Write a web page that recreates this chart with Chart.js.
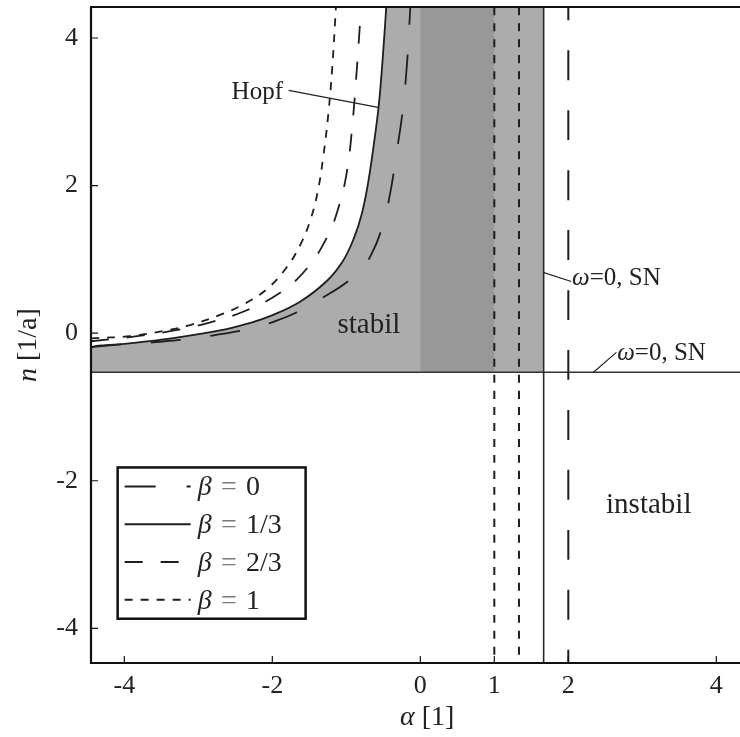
<!DOCTYPE html>
<html lang="de">
<head>
<meta charset="UTF-8">
<title>Stabilitätskarte</title>
<script src="https://cdn.jsdelivr.net/npm/chart.js"></script>
<style>
  html, body { margin: 0; padding: 0; background: #fff; }
  #wrap { width: 740px; height: 737px; position: relative; }
</style>
</head>
<body>
<div id="wrap"><canvas id="chart"></canvas></div>
<script>
// axis ticks
const alphaTicks = [-4, -2, 0, 1, 2, 4];
const nTicks = [-4, -2, 0, 2, 4];

// axis ranges (plot runs off the right edge)
const alphaMin = -4.45, alphaMax = 4.32;
const nMin = -4.47, nMax = 4.42;

// Hopf curves
const alphaBeta0 = [-4.45, -4.35, -3.68, -2.79, -1.94, -1.22, -0.81, -0.66, -0.52, -0.41, -0.32, -0.24, -0.18, -0.135];
const nBeta0 = [-0.19, -0.17, -0.13, -0.03, 0.17, 0.54, 0.85, 1.07, 1.42, 1.88, 2.45, 3.00, 3.65, 4.42];

const alphaBeta13 = [-4.45, -4.04, -3.36, -2.69, -2.30, -2.03, -1.62, -1.26, -1.05, -0.90, -0.79, -0.70, -0.62, -0.56, -0.51, -0.46];
const nBeta13 = [-0.19, -0.15, -0.07, 0.04, 0.14, 0.23, 0.43, 0.71, 0.97, 1.28, 1.62, 2.07, 2.62, 3.10, 3.70, 4.42];

const alphaBeta23 = [-4.45, -3.90, -3.36, -2.86, -2.37, -1.89, -1.53, -1.26, -1.10, -0.99, -0.92, -0.86, -0.80];
const nBeta23 = [-0.11, -0.05, 0.03, 0.14, 0.30, 0.55, 0.88, 1.30, 1.72, 2.20, 2.80, 3.55, 4.42];

const alphaBeta1 = [-4.45, -3.92, -3.47, -3.11, -2.70, -2.39, -2.07, -1.80, -1.62, -1.49, -1.39, -1.31, -1.24, -1.19, -1.14];
const nBeta1 = [-0.07, -0.04, 0.03, 0.11, 0.25, 0.39, 0.60, 0.90, 1.20, 1.52, 1.90, 2.40, 3.00, 3.60, 4.42];

// saddle-node boundaries (omega = 0)
const snAlphaShort = [1, 4 / 3];
const snAlphaSolid = 5 / 3;
const snAlphaLong = 2;
const snN = -0.53;

// darker band
const bandAlpha = [0, 1];

const legendLabels = ['0', '1/3', '2/3', '1'];

const ink = '#1e1e1e';
const lightGray = 'rgb(172,172,172)';
const darkGray = 'rgb(152,152,152)';
const serif = '"Liberation Serif", "DejaVu Serif", serif';

const pts = (xs, ys) => xs.map((x, i) => ({ x: x, y: ys[i] }));
// drawn top-down so the dash phase starts at the upper frame
const vline = a => [{ x: a, y: nMax }, { x: a, y: nMin }];

const dashLong = [30, 30];
const dashMid = [18, 18];
const dashShort = [8, 8];

function curve(data, dash, extra) {
    return Object.assign({
        data: data,
        borderColor: ink,
        borderWidth: 1.8,
        borderDash: dash,
        borderCapStyle: 'butt',
        pointRadius: 0,
        fill: false,
        tension: 0.4
    }, extra || {});
}

const hopfTop = alphaBeta13[alphaBeta13.length - 1];

const datasets = [
    // dark band between alpha 0 and 1
    curve([{ x: bandAlpha[0], y: nMax }, { x: bandAlpha[1], y: nMax }], [], {
        borderWidth: 0, fill: { value: snN }, backgroundColor: darkGray
    }),
    // light strip right of the Hopf asymptote up to the SN line
    curve([{ x: hopfTop - 0.012, y: nMax }, { x: snAlphaSolid, y: nMax }], [], {
        borderWidth: 0, fill: { value: snN }, backgroundColor: lightGray
    }),
    curve(pts(alphaBeta13, nBeta13), [], { fill: { value: snN }, backgroundColor: lightGray }),
    curve(pts(alphaBeta0, nBeta0), dashLong),
    curve(pts(alphaBeta23, nBeta23), dashMid),
    curve(pts(alphaBeta1, nBeta1), dashShort),
    curve(vline(snAlphaShort[0]), dashShort, { borderWidth: 2 }),
    curve(vline(snAlphaShort[1]), dashShort, { borderWidth: 2 }),
    curve(vline(snAlphaSolid), [], { borderWidth: 1.6, borderColor: '#2a2a2a' }),
    curve(vline(snAlphaLong), dashLong, { borderWidth: 2, borderDashOffset: 17 }),
    curve([{ x: alphaMin, y: snN }, { x: alphaMax, y: snN }], [], { borderWidth: 1.5, borderColor: '#333' })
];

// parts: [text, italic, colour]
function rich(ctx, parts, x, y, size) {
    let cx = x;
    parts.forEach(p => {
        ctx.font = (p[1] ? 'italic ' : '') + size + 'px ' + serif;
        ctx.fillStyle = p[2] || '#222';
        ctx.fillText(p[0], cx, y);
        cx += ctx.measureText(p[0]).width;
    });
    return cx;
}

const decor = {
    id: 'decor',
    afterDatasetsDraw(chart) {
        const ctx = chart.ctx;
        const a = chart.chartArea;
        const xs = chart.scales.x, ys = chart.scales.y;
        const px = v => xs.getPixelForValue(v), py = v => ys.getPixelForValue(v);
        ctx.save();
        ctx.strokeStyle = '#111';
        ctx.setLineDash([]);

        // frame: top, left, bottom
        ctx.lineWidth = 2.2;
        ctx.beginPath();
        ctx.moveTo(a.right + 5, a.top);
        ctx.lineTo(a.left, a.top);
        ctx.lineTo(a.left, a.bottom);
        ctx.lineTo(a.right + 5, a.bottom);
        ctx.stroke();

        // inward ticks
        ctx.lineWidth = 1.2;
        ctx.beginPath();
        alphaTicks.forEach(v => { ctx.moveTo(px(v), a.bottom); ctx.lineTo(px(v), a.bottom - 7); });
        nTicks.forEach(v => { ctx.moveTo(a.left, py(v)); ctx.lineTo(a.left + 7, py(v)); });
        ctx.stroke();

        // leader lines
        ctx.strokeStyle = '#222';
        ctx.lineWidth = 1.1;
        ctx.beginPath();
        ctx.moveTo(px(-1.78), py(3.29)); ctx.lineTo(px(-0.57), py(3.06));
        ctx.moveTo(px(1.67), py(0.82)); ctx.lineTo(px(2.04), py(0.70));
        ctx.moveTo(px(2.34), py(snN)); ctx.lineTo(px(2.65), py(-0.26));
        ctx.stroke();

        // annotations
        ctx.textBaseline = 'alphabetic';
        ctx.textAlign = 'left';
        rich(ctx, [['Hopf']], px(-2.55), py(3.17), 25);
        rich(ctx, [['stabil']], px(-1.12), py(0.0), 29);
        rich(ctx, [['instabil']], px(2.51), py(-2.44), 29);
        rich(ctx, [['\u03c9', 1], ['=0, SN']], px(2.05), py(0.65), 25);
        rich(ctx, [['\u03c9', 1], ['=0, SN']], px(2.66), py(-0.37), 25);

        // legend
        const bx0 = px(-4.09), bx1 = px(-1.55), by0 = py(-1.82), by1 = py(-3.87);
        ctx.fillStyle = '#fff';
        ctx.fillRect(bx0, by0, bx1 - bx0, by1 - by0);
        ctx.strokeStyle = '#111';
        ctx.lineWidth = 2.5;
        ctx.strokeRect(bx0, by0, bx1 - bx0, by1 - by0);
        const dashes = [[31, 31, 4, 40], [], dashMid, dashShort];
        const rowGap = (by1 - by0 - 38) / 3;
        legendLabels.forEach((lab, i) => {
            const ry = by0 + 19 + i * rowGap;
            ctx.strokeStyle = ink;
            ctx.lineWidth = 2;
            ctx.setLineDash(dashes[i]);
            ctx.beginPath();
            ctx.moveTo(bx0 + 7, ry);
            ctx.lineTo(bx0 + 73, ry);
            ctx.stroke();
            ctx.setLineDash([]);
            rich(ctx, [['\u03b2', 1], ['\u2004'], ['=', 0, '#7a7a7a'], ['\u2004' + lab]], bx0 + 80, ry + 9, 28);
        });

        // axis titles
        rich(ctx, [['\u03b1', 1], [' [1]']], 400, 725, 28);
        ctx.translate(36, 382);
        ctx.rotate(-Math.PI / 2);
        rich(ctx, [['n', 1], [' [1/a]']], 0, 0, 28);
        ctx.restore();
    }
};

function pinX(s) { s.height = 74; s.paddingLeft = 0; s.paddingRight = 0; }
function pinY(s) { s.width = 91; s.paddingTop = 0; s.paddingBottom = 0; }

new Chart(document.getElementById('chart'), {
    type: 'line',
    data: { datasets: datasets },
    plugins: [decor],
    options: {
        responsive: true,
        maintainAspectRatio: false,
        animation: false,
        events: [],
        layout: { padding: { top: 7, left: 0, right: 0, bottom: 0 } },
        plugins: {
            legend: { display: false },
            tooltip: { enabled: false },
            filler: { drawTime: 'beforeDatasetsDraw' }
        },
        scales: {
            x: {
                type: 'linear',
                min: alphaMin,
                max: alphaMax,
                afterBuildTicks: s => { s.ticks = alphaTicks.map(v => ({ value: v })); },
                afterFit: pinX,
                grid: { display: false, drawTicks: false },
                border: { display: false },
                ticks: { color: '#222', padding: 8, maxRotation: 0, autoSkip: false, font: { family: serif, size: 26 } }
            },
            y: {
                type: 'linear',
                min: nMin,
                max: nMax,
                afterBuildTicks: s => { s.ticks = nTicks.map(v => ({ value: v })); },
                afterFit: pinY,
                grid: { display: false, drawTicks: false },
                border: { display: false },
                ticks: { color: '#222', padding: 13, autoSkip: false, font: { family: serif, size: 26 } }
            }
        }
    }
});
</script>
</body>
</html>
